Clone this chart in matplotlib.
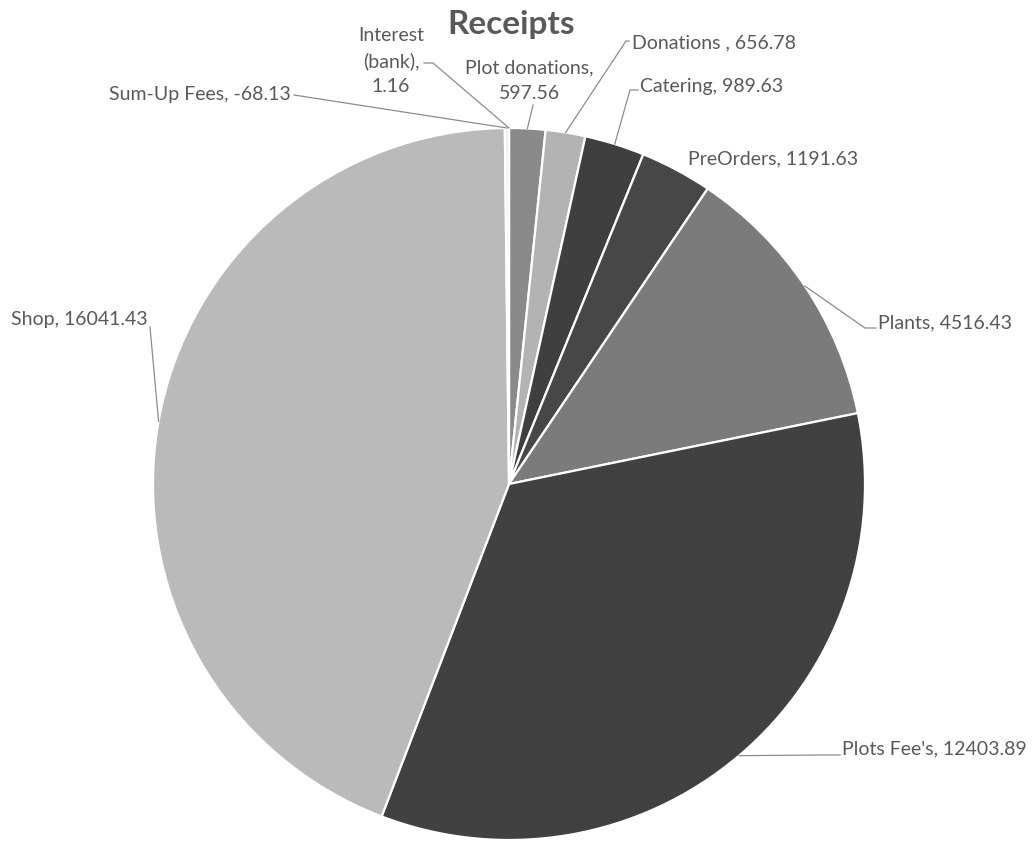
import numpy as np
import matplotlib
matplotlib.use("Agg")
import matplotlib.pyplot as plt

plt.rcParams['font.family'] = ['Lato', 'DejaVu Sans']

# data (clockwise from 12 o'clock)
categories = ["Interest\n(bank)", "Plot donations", "Donations ", "Catering", "PreOrders",
              "Plants", "Plots Fee's", "Shop", "Sum-Up Fees"]
values = [1.16, 597.56, 656.78, 989.63, 1191.63, 4516.43, 12403.89, 16041.43, -68.13]
colors = ["#ffffff", "#8a8a8a", "#b3b3b3", "#3f3f3f", "#474747",
          "#7b7b7b", "#414141", "#bababa", "#f0f0f0"]

W, H = 1032, 841
CX, CY, R = 509, 484, 356   # pie centre / radius in pixels (y down)

# label layout in pixels: x, y, ha, leader elbow points (from text towards the wedge)
label_layout = [
    (391, 61, 'center', [(424, 63), (433, 63)]),
    (529, 81, 'center', [(533, 105)]),
    (632, 43, 'left', [(629, 41), (626, 41)]),
    (640, 86, 'left', [(638, 90), (630, 90)]),
    (688, 159, 'left', None),
    (878, 323, 'left', [(876, 328), (865, 328)]),
    (842, 749, 'left', [(840, 755), (823, 755)]),
    (148, 319, 'right', [(150, 327)]),
    (291, 94, 'right', [(294, 95)]),
]

fig = plt.figure(figsize=(W / 100, H / 100), dpi=100)
ax = fig.add_axes([0, 0, 1, 1])

def py(y):
    return H - y

wedges, _ = ax.pie(np.abs(values), colors=colors, startangle=90, counterclock=False,
                   center=(CX, py(CY)), radius=R,
                   wedgeprops=dict(edgecolor='white', linewidth=1.6))

ax.set_xlim(0, W)
ax.set_ylim(0, H)
ax.set_aspect('equal')
ax.axis('off')

text_color = '#595959'
for w, name, val, lay in zip(wedges, categories, values, label_layout):
    x, y, ha, elbow = lay
    if name.startswith("Interest"):
        txt = f"{name},\n{val:g}"
        ls = 1.55
    elif name == "Plot donations":
        txt = f"{name},\n{val:.2f}"
        ls = 1.6
    else:
        txt = f"{name}, {val:.2f}"
        ls = 1.2
    ax.text(x, py(y), txt, ha=ha, va='center', fontsize=14, color=text_color,
            multialignment='center', linespacing=ls)
    if elbow:
        mid = np.deg2rad((w.theta1 + w.theta2) / 2)
        ex = CX + R * np.cos(mid)
        ey = py(CY) + R * np.sin(mid)
        xs = [p[0] for p in elbow] + [ex]
        ys = [py(p[1]) for p in elbow] + [ey]
        ax.plot(xs, ys, color='#8c8c8c', lw=0.9)

ax.text(511, py(24), "Receipts", ha='center', va='center', fontsize=24,
        fontweight='bold', color=text_color)

fig.savefig("out.png", dpi=100)
